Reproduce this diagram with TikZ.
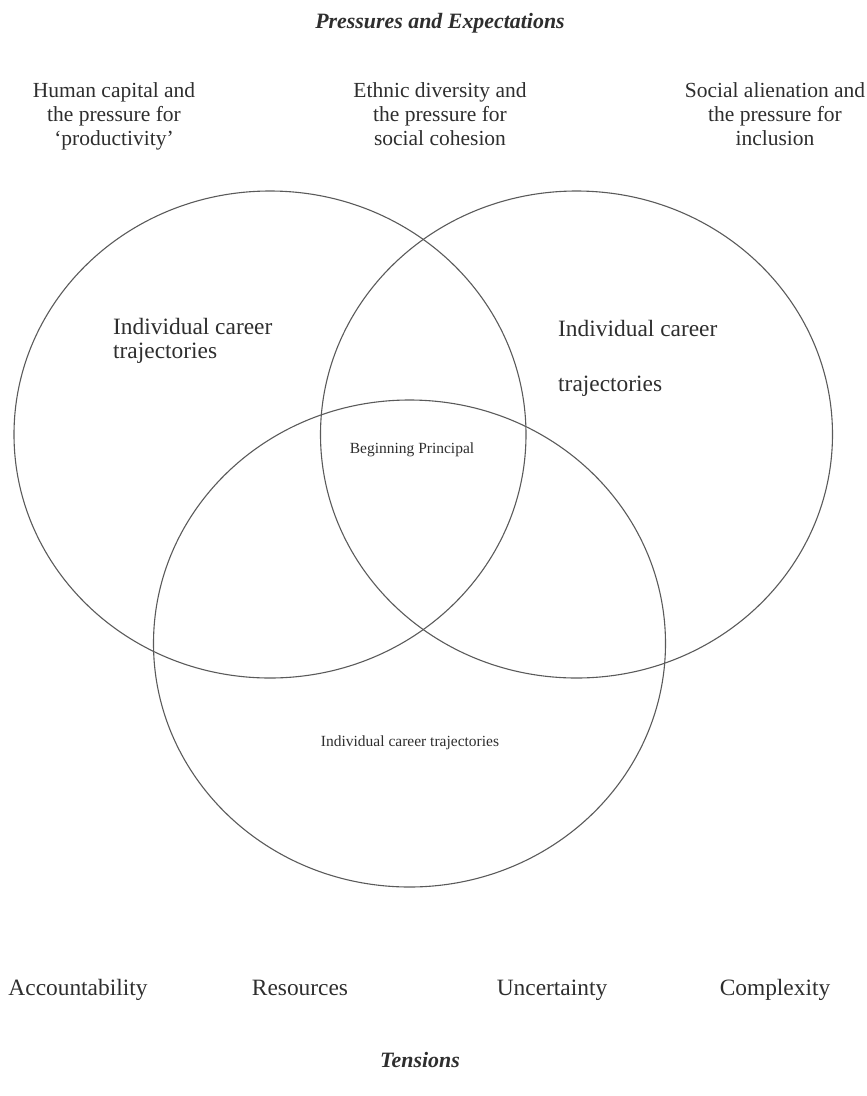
\documentclass[tikz,border=0pt]{standalone}
\usepackage{fontspec}
\setmainfont{Liberation Serif}
\usepackage{xcolor}
\usepackage{tikz}
\usetikzlibrary{positioning, calc}
\definecolor{linegray}{HTML}{5A5A5A}
\definecolor{textgray}{HTML}{2E2E2E}

\tikzset{
  ring/.style={draw=linegray, line width=1.1pt},
  bigtext/.style={text=textgray, font=\fontsize{21.5}{24}\selectfont, inner sep=0pt},
  careertext/.style={text=textgray, font=\fontsize{23.4}{24}\selectfont, inner sep=0pt},
  smalltext/.style={text=textgray, font=\fontsize{15.5}{18}\selectfont, inner sep=0pt},
  headtext/.style={text=textgray, font=\fontsize{21.9}{24}\selectfont\bfseries\itshape, inner sep=0pt}
}

\begin{document}
\begin{tikzpicture}[x=1pt, y=-1pt]
    \useasboundingbox (0,0) rectangle (867,1096);

    % the three circles
    \draw[ring] (270,434.5) ellipse [x radius=256, y radius=243.5];
    \draw[ring] (576.5,434.5) ellipse [x radius=256, y radius=243.5];
    \draw[ring] (409.5,643.5) ellipse [x radius=256, y radius=243.5];

    % pressures
    \node[headtext, anchor=base] (pressures) at (440,28) {Pressures and Expectations};
    \node[bigtext, align=center, anchor=north] (capital) at (114,82) {%
      Human capital and\\the pressure for\\`productivity'};
    \node[bigtext, align=center, anchor=north] (diversity) at (440,82) {%
      Ethnic diversity and\\the pressure for\\social cohesion};
    \node[bigtext, align=center, anchor=north] (alienation) at (775,82) {%
      Social alienation and\\the pressure for\\inclusion};

    % careers
    \node[careertext, align=left, anchor=west] (careerleft) at (113,341) {%
      Individual career\\trajectories};
    \node[careertext, align=left, anchor=west] (careerright) at (558,358) {%
      Individual career\\[31pt]trajectories};
    \node[smalltext] (principal) at (412,450) {Beginning Principal};
    \node[smalltext] (careerbottom) at (410,743) {Individual career trajectories};

    % tensions
    \node[careertext, anchor=base] (accountability) at (78,995) {Accountability};
    \node[careertext, anchor=base] (resources) at (300,995) {Resources};
    \node[careertext, anchor=base] (uncertainty) at (552,995) {Uncertainty};
    \node[careertext, anchor=base] (complexity) at (775,995) {Complexity};
    \node[headtext, anchor=base] (tensions) at (420,1067) {Tensions};
  \end{tikzpicture}
\end{document}
